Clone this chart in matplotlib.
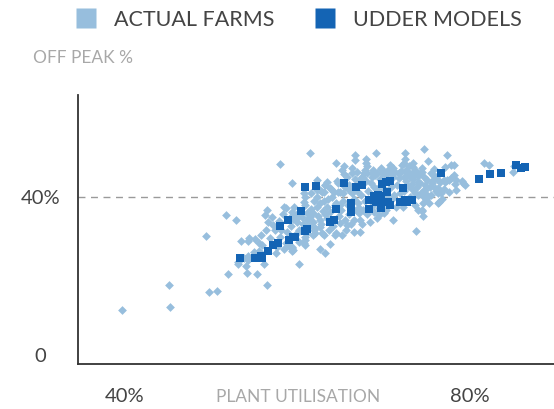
import matplotlib
matplotlib.use('Agg')
import matplotlib.pyplot as plt
from matplotlib.lines import Line2D

plt.rcParams['font.family'] = ['Lato', 'DejaVu Sans']

# ---------------- data ----------------
series_names = ['ACTUAL FARMS', 'UDDER MODELS']

farms_util = [
    39.6, 45.1, 45.2, 49.4, 49.7, 50.7, 51.7, 52.8, 51.9, 53.1,
    53.1, 54.0, 54.1, 55.3, 56.5, 56.1, 53.4, 54.3, 54.4, 55.0,
    55.7, 55.5, 56.8, 57.2, 56.2, 56.4, 57.0, 58.4, 58.6, 58.1,
    58.6, 59.4, 59.4, 57.5, 54.9, 55.5, 53.8, 54.2, 54.3, 59.3,
    59.5, 59.5, 59.9, 59.9, 60.2, 59.9, 60.2, 57.9, 59.3, 60.7,
    61.4, 60.7, 60.9, 60.5, 61.1, 59.1, 60.7, 60.9, 60.9, 60.9,
    61.1, 62.6, 63.2, 63.7, 66.5, 67.2, 69.2, 69.4, 70.0, 61.8,
    61.4, 61.1, 61.8, 62.6, 62.8, 63.0, 64.5, 65.1, 62.0, 62.0,
    64.9, 65.7, 66.5, 67.2, 67.1, 67.6, 63.4, 64.5, 62.6, 70.0,
    70.5, 66.7, 69.1, 72.4, 74.6, 77.3, 67.9, 67.9, 68.0, 64.4,
    65.4, 65.4, 66.6, 70.7, 72.4, 72.3, 72.1, 73.4, 73.4, 75.1,
    73.7, 71.1, 74.5, 73.9, 74.4, 76.4, 76.7, 76.3, 75.0, 78.4,
    78.1, 77.8, 78.1, 77.1, 77.5, 59.5, 59.4, 61.8, 61.9, 62.6,
    64.3, 81.6, 82.2, 84.9, 85.1, 75.5, 76.0, 75.7, 75.0, 74.6,
    79.0, 79.2, 79.4, 77.0, 77.5, 78.2, 78.3, 76.3, 75.9, 76.3,
    74.8, 75.0, 74.6, 75.4, 74.4, 74.4, 74.4, 75.7, 77.3, 77.1,
    77.8, 76.5, 74.0, 74.2, 73.4, 73.0, 74.6, 74.0, 73.6, 70.0,
    70.3, 70.7, 71.3, 71.7, 72.7, 63.4, 63.2, 64.7, 62.6, 63.0,
    62.2, 67.2, 67.0, 65.9, 66.3, 68.7, 68.6, 69.8, 70.1,
    60.6, 61.3, 61.6, 62.2, 62.4, 61.9, 60.8, 62.9, 62.7,
    63.2, 63.5, 63.0, 63.8, 64.0, 63.6, 64.1, 63.4, 64.3, 63.9,
    64.8, 65.0, 65.3, 65.5, 65.8, 65.2, 65.9, 64.6, 66.0, 65.6, 64.9,
    66.5, 66.8, 67.0, 66.4, 67.3, 66.7, 67.4, 66.2, 67.1, 66.9, 67.5,
    67.8, 68.0, 68.2, 68.5, 68.7, 67.9, 68.9, 68.4, 68.8, 67.7,
    69.2, 69.5, 69.8, 70.0, 69.4, 70.3, 70.4, 69.7, 69.0, 70.2,
    70.8, 71.0, 71.2, 71.5, 71.8, 70.9, 71.4, 71.7, 72.0, 71.1,
    72.3, 72.5, 72.8, 73.0, 73.2, 72.6, 73.4, 72.2, 73.3, 72.9,
    73.8, 74.1, 74.3, 74.7, 74.9, 73.7, 74.5, 73.6,
    75.3, 75.6, 76.0, 75.2, 76.6, 75.8, 76.2, 76.9,
    57.8, 58.3, 58.8, 59.2, 57.4, 56.6, 58.0, 59.6, 60.0, 60.1,
    59.0, 58.4, 57.6, 56.3, 55.9,
    62.2, 62.8, 63.2, 63.8, 64.2, 64.7, 64.9, 65.5, 62.2, 61.6,
    65.1, 65.7, 66.3, 66.9, 67.5, 68.0, 68.6, 69.2, 70.0, 70.5,
    71.1, 71.7, 72.3, 72.9, 73.4, 74.0, 69.6, 70.3, 67.8, 66.3,
]

farms_offpeak = [
    11.4, 17.8, 12.1, 30.0, 15.8, 16.2, 35.4, 34.0, 20.5, 23.0,
    23.5, 22.5, 20.8, 20.5, 17.8, 23.1, 28.9, 28.7, 29.6, 29.4,
    30.3, 28.2, 29.5, 32.8, 35.3, 36.7, 34.9, 37.3, 37.1, 31.6,
    28.3, 26.9, 26.3, 25.7, 26.1, 26.3, 24.4, 25.1, 24.0, 36.2,
    35.4, 34.3, 34.7, 33.5, 31.6, 30.9, 23.1, 48.2, 43.4, 40.8,
    50.9, 38.7, 37.9, 34.9, 35.8, 34.5, 28.2, 29.0, 27.8, 29.9,
    30.7, 26.7, 25.8, 28.0, 31.0, 31.1, 34.5, 35.4, 35.8, 35.8,
    34.9, 34.1, 33.7, 34.1, 30.7, 30.3, 30.7, 30.3, 32.0, 30.7,
    33.3, 32.8, 34.1, 34.1, 35.8, 36.6, 37.4, 38.3, 38.3, 39.1,
    37.9, 50.6, 50.9, 50.9, 52.1, 50.5, 49.4, 48.4, 47.7, 48.4,
    47.8, 45.8, 49.2, 48.0, 49.4, 48.4, 48.0, 48.6, 47.6, 49.1,
    31.4, 34.1, 35.2, 36.6, 36.4, 38.7, 39.4, 38.3, 40.0, 44.2,
    45.5, 48.0, 47.9, 47.4, 41.2, 26.5, 27.3, 30.3, 31.6, 32.4,
    30.3, 48.6, 48.0, 46.3, 47.7, 46.0, 45.0, 44.2, 44.2, 45.0,
    43.9, 43.4, 42.9, 44.3, 44.3, 43.1, 41.7, 42.1, 42.1, 40.8,
    41.7, 40.4, 40.0, 40.4, 36.6, 47.1, 46.3, 45.5, 44.3, 43.8,
    44.6, 43.8, 43.8, 43.4, 44.4, 45.0, 41.7, 40.4, 40.8, 46.3,
    45.9, 46.3, 46.3, 45.9, 45.9, 43.8, 42.9, 41.2, 41.7, 41.2,
    40.0, 44.2, 42.9, 41.7, 40.8, 46.7, 45.9, 45.9, 45.5,
    33.0, 32.5, 36.8, 37.5, 35.2, 39.0, 39.8, 36.3, 33.2,
    35.5, 39.3, 38.8, 36.0, 40.0, 31.5, 32.5, 34.5, 37.8, 42.0,
    35.0, 36.5, 39.0, 34.0, 37.8, 41.0, 43.0, 44.0, 35.5, 31.5, 38.0,
    39.5, 36.5, 38.3, 42.0, 40.5, 44.5, 33.0, 33.0, 37.0, 41.5, 45.0,
    39.0, 35.5, 41.5, 43.5, 38.0, 44.0, 42.5, 33.5, 36.0, 46.0,
    41.8, 44.5, 38.5, 42.0, 37.0, 40.0, 44.8, 47.0, 45.5, 36.5,
    42.5, 45.0, 40.5, 43.0, 41.0, 39.5, 37.5, 44.8, 46.5, 47.3,
    41.5, 44.0, 42.8, 40.0, 43.2, 46.8, 45.5, 37.5, 41.8, 47.8,
    42.5, 45.8, 41.0, 43.0, 39.5, 46.5, 38.5, 38.0,
    42.5, 43.5, 41.5, 38.5, 41.0, 47.0, 44.5, 42.0,
    33.8, 35.5, 31.0, 32.5, 31.5, 33.5, 29.8, 37.5, 35.8, 28.5,
    27.5, 26.8, 27.2, 31.5, 27.8,
    44.2, 41.2, 42.9, 42.1, 41.2, 43.4, 41.2, 42.5, 41.7, 40.8,
    46.7, 45.0, 45.9, 46.3, 45.0, 45.9, 45.0, 45.9, 46.3, 46.7,
    46.3, 45.9, 45.0, 45.9, 46.3, 45.2, 47.1, 46.3, 46.7, 47.1,
]

models_util = [
    53.3, 55.0, 55.7, 55.9, 56.6, 57.2, 57.7, 58.0, 58.9, 59.0,
    59.5, 59.7, 60.4, 60.8, 61.1, 60.9, 62.1, 64.5, 63.8, 64.2,
    65.4, 66.2, 66.2, 66.2, 66.8, 67.5, 68.3, 68.3, 68.8, 69.3,
    69.6, 69.1, 69.6, 69.7, 69.8, 70.2, 70.7, 70.3, 70.5, 70.7,
    71.8, 72.2, 72.4, 72.7, 73.2, 76.6, 81.0, 82.3, 83.6, 85.3,
    85.9, 86.3,
]

models_offpeak = [
    24.6, 24.6, 25.1, 24.6, 26.3, 27.8, 28.4, 32.6, 34.2, 29.0,
    29.9, 29.9, 36.4, 31.3, 31.8, 42.5, 42.8, 36.9, 33.7, 34.1,
    43.5, 38.4, 37.4, 36.2, 42.5, 42.9, 36.9, 39.1, 40.2, 40.4,
    40.2, 38.7, 39.1, 37.2, 43.2, 43.6, 44.0, 41.2, 38.7, 37.9,
    38.7, 42.2, 39.1, 38.7, 39.1, 46.0, 44.4, 45.8, 46.0, 47.9,
    47.2, 47.6,
]

x_ticks = [40, 80]
x_tick_labels = ['40%', '80%']
y_ticks = [0, 40]
y_tick_labels = ['0', '40%']
reference_level = 40

light = '#97bedd'
dark = '#1464b4'
text_dark = '#444444'
text_light = '#a8a8a8'

# ---------------- figure ----------------
fig = plt.figure(figsize=(5.54, 4.09), dpi=100)
ax = fig.add_axes([78 / 554, 45 / 409, 476 / 554, 269 / 409])
ax.set_xlim(34.55, 89.7)
ax.set_ylim(-2.27, 65.66)

ax.axhline(reference_level, color='#9a9a9a', lw=1.0, ls=(0, (5, 4)), zorder=1)
ax.scatter(farms_util, farms_offpeak, marker='D', s=20, color=light,
           linewidths=0, zorder=2)
ax.scatter(models_util, models_offpeak, marker='s', s=38, color=dark,
           linewidths=0, zorder=3)

for side in ['top', 'right']:
    ax.spines[side].set_visible(False)
for side in ['left', 'bottom']:
    ax.spines[side].set_color('#333333')
    ax.spines[side].set_linewidth(1.3)

ax.set_xticks(x_ticks)
ax.set_xticklabels(x_tick_labels)
ax.set_yticks(y_ticks)
ax.set_yticklabels(y_tick_labels)
ax.tick_params(axis='x', length=0, pad=17, labelsize=14.5, labelcolor=text_dark)
ax.tick_params(axis='y', length=0, pad=27, labelsize=14.5, labelcolor=text_dark)
for lab in ax.get_yticklabels():
    lab.set_horizontalalignment('center')

ax.text(0.462, -0.1227, 'PLANT UTILISATION', transform=ax.transAxes,
        ha='center', va='center', fontsize=12.5, color=text_light)
ax.text(-0.0945, 1.1375, 'OFF PEAK %', transform=ax.transAxes,
        ha='left', va='center', fontsize=12.5, color=text_light)

handles = [
    Line2D([], [], marker='s', ls='none', markersize=15, color=light, mec='none'),
    Line2D([], [], marker='s', ls='none', markersize=15, color=dark, mec='none'),
]
leg = fig.legend(handles, series_names, loc='center left',
                 bbox_to_anchor=(75 / 554, 1 - 20 / 409), ncol=2,
                 frameon=False, fontsize=15.5, handlelength=1.0,
                 handletextpad=0.8, columnspacing=1.85, borderpad=0,
                 borderaxespad=0)
for t in leg.get_texts():
    t.set_color(text_dark)

fig.savefig('out.png', dpi=100)
